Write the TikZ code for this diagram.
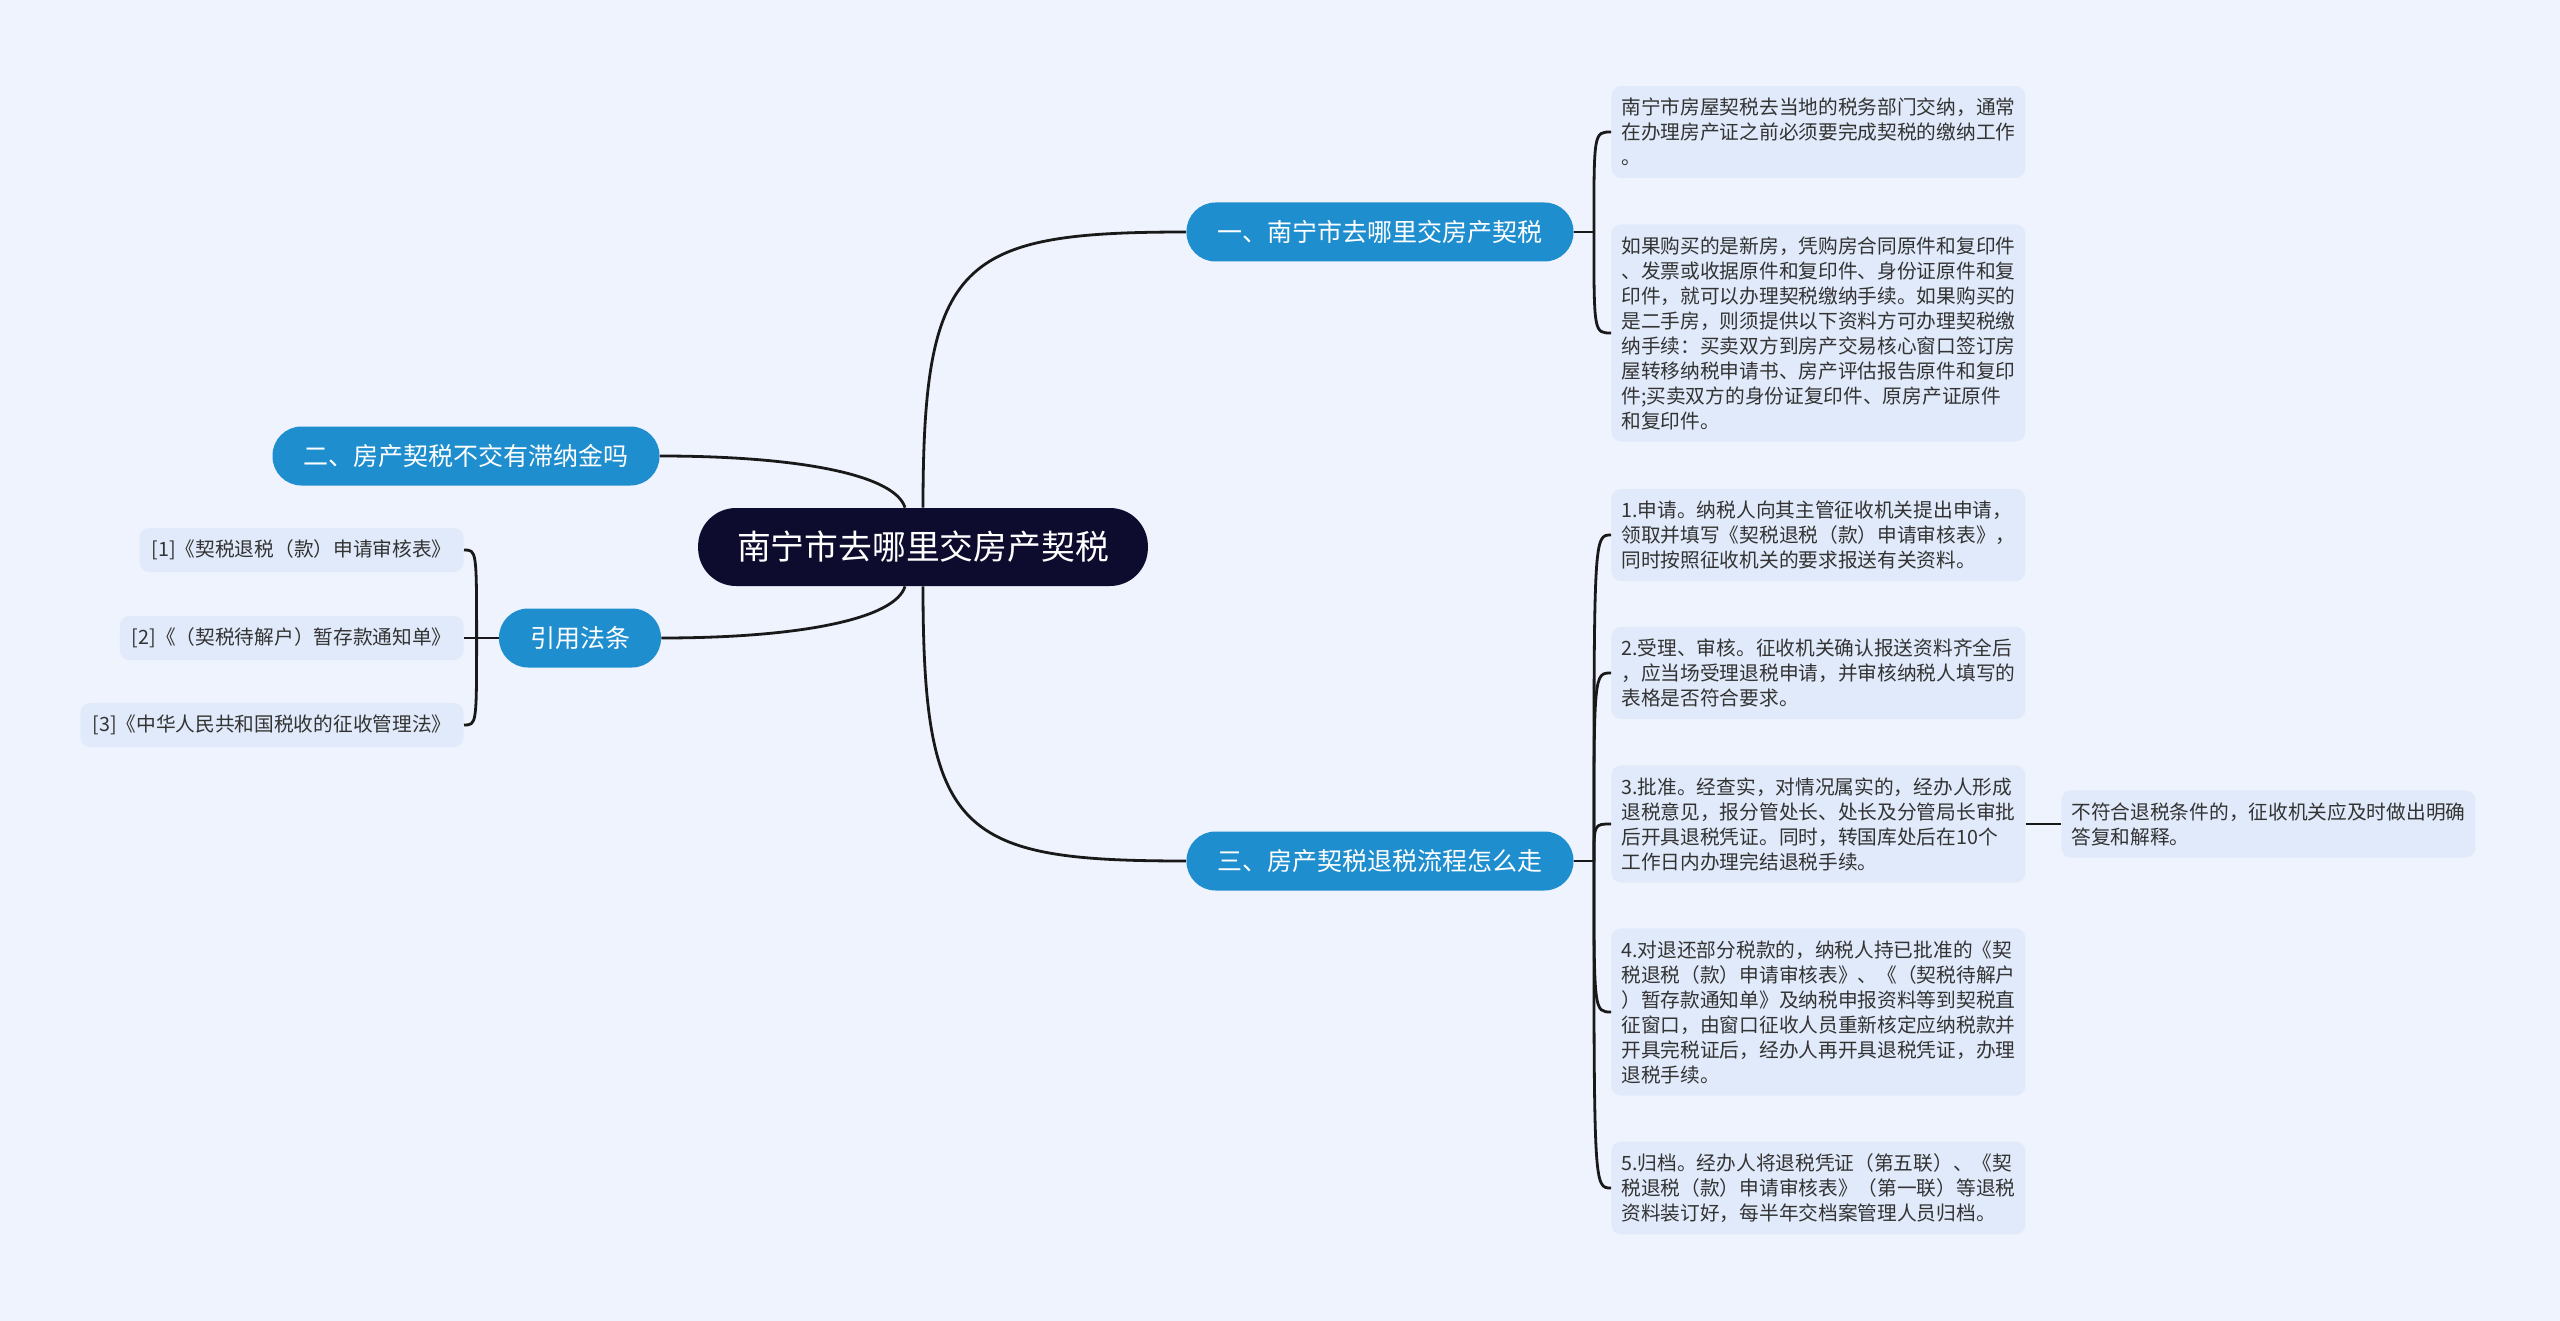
\documentclass[tikz,border=0pt]{standalone}
\usepackage{fontspec}
\setmainfont{Noto Sans CJK SC}
\usepackage{xcolor}
\usepackage{tikz}
\usetikzlibrary{calc}

\definecolor{bgblue}{HTML}{EEF3FD}
\definecolor{leafblue}{HTML}{E1EAFA}
\definecolor{branchblue}{HTML}{1F8ECF}
\definecolor{rootnavy}{HTML}{0E0C2E}
\definecolor{leaftext}{HTML}{333333}

\tikzset{
  rootbox/.style={fill=rootnavy, text=white, rounded corners=19pt, minimum height=39pt, inner xsep=19.5pt, font=\fontsize{16.9}{20}\selectfont},
  branchbox/.style={fill=branchblue, text=white, rounded corners=14.5pt, minimum height=29.5pt, inner xsep=15.5pt, font=\fontsize{12.5}{15}\selectfont},
  leafbox/.style={fill=leafblue, text=leaftext, rounded corners=5pt, inner xsep=5pt, inner ysep=6pt, align=left, font=\fontsize{9.85}{12.5}\selectfont},
  citebox/.style={leafbox, inner xsep=6pt},
  link/.style={line width=1.4pt, black!90},
}

\begin{document}
\begin{tikzpicture}[x=0.5pt, y=-0.5pt]
    % Canvas
    \fill[bgblue] (0,0) rectangle (2560,1321);
    \useasboundingbox (0,0) rectangle (2560,1321);

    % Root and main branches
    \node[rootbox] (root) at (923,547) {南宁市去哪里交房产契税};
    \node[branchbox] (b1) at (1380,232) {一、南宁市去哪里交房产契税};
    \node[branchbox] (b3) at (1380,861) {三、房产契税退税流程怎么走};
    \node[branchbox] (b2) at (466,456) {二、房产契税不交有滞纳金吗};
    \node[branchbox] (cite) at (580,638) {引用法条};

    % Leaves of branch one
    \node[leafbox, anchor=west, text width=197pt] (la) at (1611,132)
        {南宁市房屋契税去当地的税务部门交纳，通常\\在办理房产证之前必须要完成契税的缴纳工作\\。};
    \node[leafbox, anchor=west, text width=197pt] (lb) at (1611,333)
        {如果购买的是新房，凭购房合同原件和复印件\\、发票或收据原件和复印件、身份证原件和复\\印件，就可以办理契税缴纳手续。如果购买的\\是二手房，则须提供以下资料方可办理契税缴\\纳手续：买卖双方到房产交易核心窗口签订房\\屋转移纳税申请书、房产评估报告原件和复印\\件;买卖双方的身份证复印件、原房产证原件\\和复印件。};

    % Leaves of branch three
    \node[leafbox, anchor=west, text width=197pt] (s1) at (1611,535)
        {1.申请。纳税人向其主管征收机关提出申请，\\领取并填写《契税退税（款）申请审核表》，\\同时按照征收机关的要求报送有关资料。};
    \node[leafbox, anchor=west, text width=197pt] (s2) at (1611,673)
        {2.受理、审核。征收机关确认报送资料齐全后\\，应当场受理退税申请，并审核纳税人填写的\\表格是否符合要求。};
    \node[leafbox, anchor=west, text width=197pt] (s3) at (1611,824)
        {3.批准。经查实，对情况属实的，经办人形成\\退税意见，报分管处长、处长及分管局长审批\\后开具退税凭证。同时，转国库处后在10个\\工作日内办理完结退税手续。};
    \node[leafbox, anchor=west, text width=197pt] (s4) at (1611,1012)
        {4.对退还部分税款的，纳税人持已批准的《契\\税退税（款）申请审核表》、《（契税待解户\\）暂存款通知单》及纳税申报资料等到契税直\\征窗口，由窗口征收人员重新核定应纳税款并\\开具完税证后，经办人再开具退税凭证，办理\\退税手续。};
    \node[leafbox, anchor=west, text width=197pt] (s5) at (1611,1188)
        {5.归档。经办人将退税凭证（第五联）、《契\\税退税（款）申请审核表》（第一联）等退税\\资料装订好，每半年交档案管理人员归档。};
    \node[leafbox, anchor=west, text width=197pt] (s3x) at (2061,824)
        {不符合退税条件的，征收机关应及时做出明确\\答复和解释。};

    % Cited laws
    \node[citebox, anchor=east] (c1) at (464,550) {[1]《契税退税（款）申请审核表》};
    \node[citebox, anchor=east] (c2) at (464,638) {[2]《（契税待解户）暂存款通知单》};
    \node[citebox, anchor=east] (c3) at (464,725) {[3]《中华人民共和国税收的征收管理法》};

    % Root to branches
    \draw[link] (root.north) .. controls (923,260) and (960,232) .. (b1.west);
    \draw[link] (root.south) .. controls (923,835) and (960,861) .. (b3.west);
    \draw[link] ($(root.north)+(-18,0)$) .. controls (895,475) and (800,456) .. (b2.east);
    \draw[link] ($(root.south)+(-18,0)$) .. controls (895,619) and (800,638) .. (cite.east);

    % Branch one to its leaves
    \coordinate (j1) at ($(b1.east)+(20,0)$);
    \draw[link] (b1.east) -- (j1);
    \draw[link] (j1) .. controls (j1 |- la.west) .. (la.west);
    \draw[link] (j1) .. controls (j1 |- lb.west) .. (lb.west);

    % Branch three to its steps
    \coordinate (j3) at ($(b3.east)+(20,0)$);
    \draw[link] (b3.east) -- (j3);
    \draw[link] (j3) .. controls (j3 |- s1.west) .. (s1.west);
    \draw[link] (j3) .. controls (j3 |- s2.west) .. (s2.west);
    \draw[link] (j3) .. controls (j3 |- s3.west) .. (s3.west);
    \draw[link] (j3) .. controls (j3 |- s4.west) .. (s4.west);
    \draw[link] (j3) .. controls (j3 |- s5.west) .. (s5.west);
    \draw[link] (s3.east) -- (s3x.west);

    % Cited laws bracket
    \coordinate (jc) at ($(cite.west)+(-22,0)$);
    \draw[link] (cite.west) -- (jc);
    \draw[link] (jc) .. controls (jc |- c1.east) .. (c1.east);
    \draw[link] (jc) -- (c2.east);
    \draw[link] (jc) .. controls (jc |- c3.east) .. (c3.east);
\end{tikzpicture}
\end{document}
